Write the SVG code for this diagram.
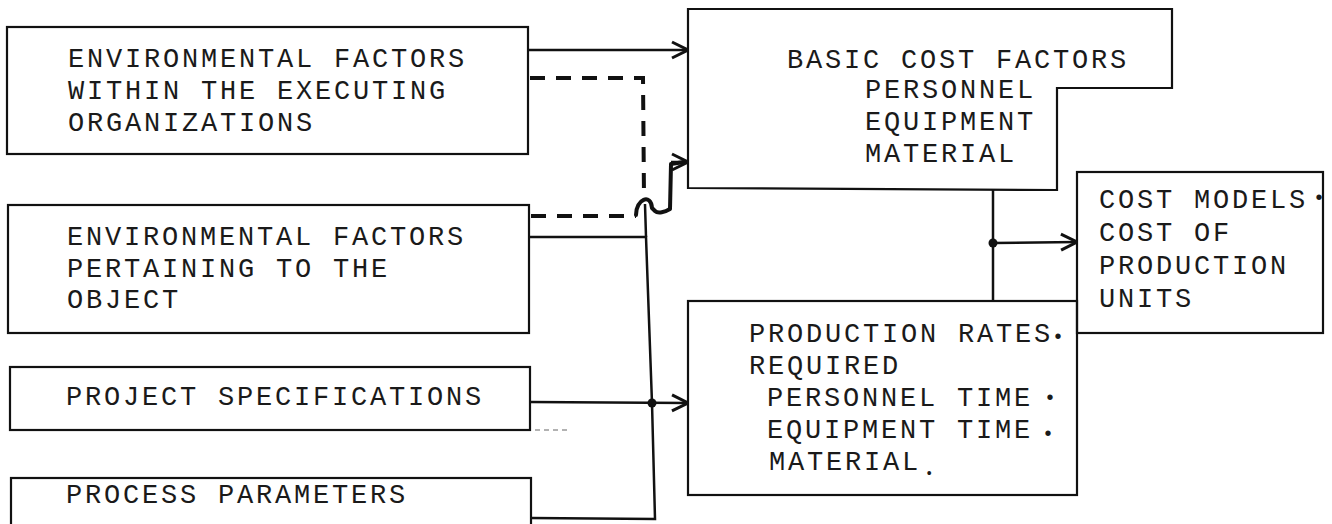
<svg xmlns="http://www.w3.org/2000/svg" width="1332" height="524" viewBox="0 0 1332 524">
<style>
.box{fill:none;stroke:#111;stroke-width:2.2;stroke-linejoin:miter}
.t{font-family:"Liberation Mono","DejaVu Sans Mono",monospace;font-size:27px;letter-spacing:2.8px;fill:#1a1a1a}
.dot{font-size:20px;letter-spacing:0}
.wire{fill:none;stroke:#111;stroke-width:2.5}
.thick{fill:none;stroke:#111;stroke-width:4;stroke-linejoin:round;stroke-linecap:round}
.dash{fill:none;stroke:#111;stroke-width:4;stroke-dasharray:15 11}
.faint{fill:none;stroke:#999;stroke-width:1.5;stroke-dasharray:5 4}
</style>
<defs>
<marker id="arr" markerUnits="userSpaceOnUse" viewBox="0 0 20 20" refX="19" refY="10" markerWidth="20" markerHeight="20" orient="auto">
<path d="M3,2 L19,10 L3,18" fill="none" stroke="#111" stroke-width="3"/>
</marker>
</defs>
<rect width="1332" height="524" fill="#fff"/>

<g id="env-exec">
<rect class="box" x="7" y="27" width="521" height="127"/>
<text class="t"><tspan x="68" y="67">ENVIRONMENTAL FACTORS</tspan><tspan x="68" y="99">WITHIN THE EXECUTING</tspan><tspan x="68" y="131">ORGANIZATIONS</tspan></text>
</g>

<g id="env-object">
<rect class="box" x="8" y="205" width="521" height="128"/>
<text class="t"><tspan x="67" y="245">ENVIRONMENTAL FACTORS</tspan><tspan x="67" y="277">PERTAINING TO THE</tspan><tspan x="67" y="308">OBJECT</tspan></text>
</g>

<g id="project-specs">
<rect class="box" x="10" y="367" width="520" height="63"/>
<text class="t"><tspan x="66" y="405">PROJECT SPECIFICATIONS</tspan></text>
</g>

<g id="process-params">
<rect class="box" x="11" y="478" width="520" height="70"/>
<text class="t"><tspan x="66" y="503">PROCESS PARAMETERS</tspan></text>
</g>

<g id="basic-cost">
<path class="box" d="M688,9 L1172,9 L1172,88 L1057,88 L1057,190 L688,188 Z"/>
<text class="t"><tspan x="787" y="68">BASIC COST FACTORS</tspan><tspan x="865" y="98">PERSONNEL</tspan><tspan x="865" y="130">EQUIPMENT</tspan><tspan x="865" y="162">MATERIAL</tspan></text>
</g>

<g id="cost-models">
<rect class="box" x="1077" y="172" width="246" height="161"/>
<text class="t"><tspan x="1099" y="208">COST MODELS</tspan><tspan class="dot" x="1313" y="204">•</tspan><tspan x="1099" y="241">COST OF</tspan><tspan x="1099" y="274">PRODUCTION</tspan><tspan x="1099" y="307">UNITS</tspan></text>
</g>

<g id="production-rates">
<rect class="box" x="688" y="301" width="389" height="194"/>
<text class="t"><tspan x="749" y="342">PRODUCTION RATES</tspan><tspan class="dot" x="1052" y="343">•</tspan><tspan x="749" y="374">REQUIRED</tspan><tspan x="767" y="406">PERSONNEL TIME</tspan><tspan class="dot" x="1044" y="404">•</tspan><tspan x="767" y="438">EQUIPMENT TIME</tspan><tspan class="dot" x="1042" y="440">•</tspan><tspan x="769" y="470">MATERIAL</tspan><tspan class="dot" x="925" y="478" style="font-size:14px">•</tspan></text>
</g>

<g id="connectors">
<path class="wire" d="M528,50 L688,50" marker-end="url(#arr)"/>
<path class="dash" d="M530,78 L643,78 L644,198"/>
<path class="wire" d="M645,204 L646,237"/>
<path class="dash" d="M531,216 L636,216"/>
<path class="thick" d="M636,215 C636,199 651,193 652,208 L655,211 C658,214 665,212 670,209 L671,164 L684,162"/>
<path class="wire" d="M671,162 L688,162" marker-end="url(#arr)"/>
<path class="wire" d="M530,237 L646,237 L652,403 L655,519 L531,518"/>
<path class="wire" d="M530,402 L688,403" marker-end="url(#arr)"/>
<circle cx="652" cy="403" r="4.5" fill="#111"/>
<path class="wire" d="M993,189 L993,301"/>
<path class="wire" d="M993,243 L1077,242" marker-end="url(#arr)"/>
<circle cx="993" cy="243" r="4.5" fill="#111"/>
<path class="faint" d="M535,430 L570,430"/>
</g>
</svg>
